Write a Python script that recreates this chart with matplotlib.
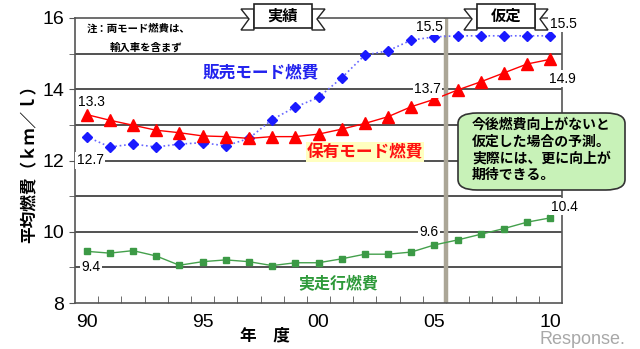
import matplotlib
matplotlib.use("Agg")
import matplotlib.pyplot as plt
from matplotlib.patches import FancyBboxPatch, Polygon
from matplotlib.ticker import MultipleLocator, FixedLocator

plt.rcParams['font.family'] = ['Noto Sans CJK JP', 'DejaVu Sans']

# fiscal years 1990-2010
years = list(range(1990, 2011))
year_labels = ["90", "95", "00", "05", "10"]
year_label_pos = [1990, 1995, 2000, 2005, 2010]

# sales mode fuel economy (blue)
sales_mode = [12.67, 12.38, 12.46, 12.38, 12.46, 12.50, 12.41, 12.62, 13.15, 13.50, 13.77,
              14.32, 14.96, 15.08, 15.38, 15.47, 15.50, 15.50, 15.50, 15.50, 15.50]
# owned fleet mode fuel economy (red)
owned_mode = [13.29, 13.13, 12.99, 12.85, 12.78, 12.69, 12.67, 12.62, 12.67, 12.67, 12.74,
              12.88, 13.04, 13.23, 13.51, 13.72, 13.98, 14.21, 14.46, 14.71, 14.84]
# real-world fuel economy (green)
real_world = [9.45, 9.40, 9.47, 9.32, 9.06, 9.16, 9.21, 9.16, 9.05, 9.13, 9.13,
              9.24, 9.37, 9.37, 9.43, 9.63, 9.77, 9.93, 10.09, 10.27, 10.39]

W, H = 640, 349
fig = plt.figure(figsize=(6.4, 3.49), dpi=100)
ax = fig.add_axes([75 / W, 1 - 303 / H, (562 - 75) / W, (303 - 18) / H])

ax.set_xlim(1989.5, 2010.5)
ax.set_ylim(8, 16)

# horizontal grid
for y in range(9, 16):
    ax.axhline(y, color="#333333", lw=1.2, zorder=1)

# assumed / actual divider
ax.axvline(2005.5, color="#aba697", lw=3.2, zorder=2)

ax.plot(years, sales_mode, color="#6666ff", ls=":", lw=1.2, marker="D", ms=5.5,
        mfc="#1a1aff", mec="#1a1aff", zorder=4)
ax.plot(years, owned_mode, color="#ff0000", ls="-", lw=1.0, marker="^", ms=8,
        mfc="#ff0000", mec="#ff0000", zorder=4)
ax.plot(years, real_world, color="#44a04c", ls="-", lw=1.0, marker="s", ms=5,
        mfc="#3c9a46", mec="#3c9a46", zorder=4)

for s in ax.spines.values():
    s.set_color("#555555")
    s.set_linewidth(1.2)

ax.yaxis.set_major_locator(MultipleLocator(2))
ax.yaxis.set_minor_locator(MultipleLocator(1))
ax.tick_params(axis="y", which="both", direction="out", length=4, color="#555555",
               labelsize=14, pad=4)
for lab in ax.get_yticklabels():
    lab.set_fontfamily("Liberation Sans")

ax.xaxis.set_major_locator(FixedLocator(year_label_pos))
ax.set_xticklabels(year_labels, fontfamily="Liberation Sans", fontsize=14)
ax.xaxis.set_minor_locator(FixedLocator([y + 0.5 for y in years[:-1]]))
ax.tick_params(axis="x", which="major", length=0, pad=8)
ax.tick_params(axis="x", which="minor", direction="in", length=5, color="#555555")

# value labels
box = dict(facecolor="white", edgecolor="none", pad=1.0)
lab_kw = dict(fontsize=10, fontfamily="Liberation Sans", ha="center", va="center",
              zorder=6, clip_on=False)
ax.text(1990.2, 13.65, "13.3", **lab_kw)
ax.text(1990.15, 12.0, "12.7", bbox=box, **lab_kw)
ax.text(2004.8, 15.75, "15.5", bbox=box, **lab_kw)
ax.text(2010.55, 15.83, "15.5", bbox=box, **lab_kw)
ax.text(2004.7, 14.0, "13.7", bbox=box, **lab_kw)
ax.text(2010.5, 14.3, "14.9", bbox=box, **lab_kw)
ax.text(2004.75, 10.0, "9.6", bbox=box, **lab_kw)
ax.text(2010.6, 10.7, "10.4", bbox=box, **lab_kw)
ax.text(1990.2, 9.0, "9.4", bbox=box, **lab_kw)

# series names
ax.text(1997.5, 14.48, "販売モード燃費", color="#2222ee", fontsize=12, fontweight="bold",
        ha="center", va="center", zorder=6)
ax.text(2002.0, 12.24, "保有モード燃費", color="#ff1010", fontsize=12, fontweight="bold",
        ha="center", va="center", zorder=6,
        bbox=dict(facecolor="#ffffc0", edgecolor="none", pad=0.5))
ax.text(2000.85, 8.56, "実走行燃費", color="#2e9a3a", fontsize=11.5, fontweight="bold",
        ha="center", va="center", zorder=6)

# note
ax.text(1990.0, 15.7, "注：両モード燃費は、", fontsize=7.5, fontweight="bold",
        ha="left", va="center", zorder=6)
ax.text(1991.0, 15.18, "輸入車を含まず", fontsize=7.5, fontweight="bold",
        ha="left", va="center", zorder=6)

# axis titles
fig.text(30 / W, 1 - 160 / H, "平均燃費（ｋｍ／ｌ）", rotation=90, fontsize=12,
         fontweight="bold", ha="center", va="center")
fig.text(265 / W, 1 - 335 / H, "年　度", fontsize=12, fontweight="bold",
         ha="center", va="center")


def px(x, y):
    return (x / W, 1 - y / H)


def banner(cx, label):
    w, top, bot = 58, 4, 28
    L, R = cx - w / 2, cx + w / 2
    tail_l = [px(L, top + 5), px(L - 13, top + 5), px(L - 5, (top + bot) / 2 + 3),
              px(L - 13, bot + 2), px(L, bot + 2)]
    tail_r = [px(R, top + 5), px(R + 13, top + 5), px(R + 5, (top + bot) / 2 + 3),
              px(R + 13, bot + 2), px(R, bot + 2)]
    for pts in (tail_l, tail_r):
        fig.patches.append(Polygon(pts, closed=True, transform=fig.transFigure,
                                   facecolor="white", edgecolor="#222222", lw=1.0,
                                   zorder=7))
    x0, y0 = px(L, bot)
    fig.patches.append(FancyBboxPatch((x0, y0), w / W, (bot - top) / H,
                                      boxstyle="square,pad=0", transform=fig.transFigure,
                                      facecolor="white", edgecolor="#222222", lw=1.2,
                                      zorder=8))
    fig.text(cx / W, 1 - (top + bot) / 2 / H, label, fontsize=11, fontweight="bold",
             ha="center", va="center", zorder=9)


banner(283, "実績")
banner(506, "仮定")

# callout
x0, y0 = px(458, 190)
fig.patches.append(FancyBboxPatch((x0, y0), (625 - 458) / W, (190 - 113) / H,
                                  boxstyle="round,pad=0,rounding_size=0.03",
                                  transform=fig.transFigure, facecolor="#c8f2b8",
                                  edgecolor="#333333", lw=1.2, zorder=8))
fig.text(472 / W, 1 - 118 / H,
         "今後燃費向上がないと\n仮定した場合の予測。\n実際には、更に向上が\n期待できる。",
         fontsize=10, fontweight="bold", ha="left", va="top", linespacing=1.25,
         zorder=9)

# watermark
fig.text(582 / W, 1 - 339 / H, "Response.", fontsize=13, color="#a8a8a8",
         fontfamily="Liberation Sans", ha="center", va="center", zorder=0)

fig.savefig("out.png", dpi=100)
